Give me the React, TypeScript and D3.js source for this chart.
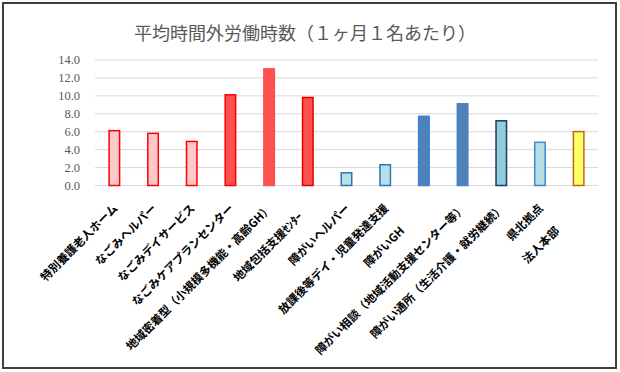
import * as d3 from "d3";

const categories = [
  "特別養護老人ホーム",
  "なごみヘルパー",
  "なごみデイサービス",
  "なごみケアプランセンター",
  "地域密着型（小規模多機能・高齢GH）",
  "地域包括支援ｾﾝﾀｰ",
  "障がいヘルパー",
  "放課後等デイ・児童発達支援",
  "障がいGH",
  "障がい相談（地域活動支援センター等）",
  "障がい通所（生活介護・就労継続）",
  "県北拠点",
  "法人本部",
];
const values = [6.2, 5.9, 5.0, 10.2, 13.1, 9.9, 1.5, 2.4, 7.8, 9.2, 7.3, 4.9, 6.1];
const yTicks = [0, 2, 4, 6, 8, 10, 12, 14];
const title = "平均時間外労働時数（１ヶ月１名あたり）";

// per-bar colours (Excel style, each point formatted by hand)
const fills = [
  "#ffc9cc", "#ffc9cc", "#ffc9cc", "#ff5050", "#ff5050", "#ff5050",
  "#b8dee8", "#b8dee8", "#4f81bd", "#4f81bd", "#92cddc", "#b8dee8", "#ffff66",
];
const strokes = [
  "#ff0000", "#ff0000", "#ff0000", "#ff0000", "#ff5050", "#e80000",
  "#2e75b6", "#2e75b6", "#3d7fd0", "#4f81bd", "#1f3864", "#3a8ad0", "#c0661a",
];
// some labels sit further down the diagonal (trailing blanks in the source)
const labelShift = [0, 0, 0, 0, 0, 12, 0, 0, 32, 0, 0, 0, 32];

const W = 620;
const H = 372;
const plotLeft = 95;
const plotRight = 598;
const plotTop = 60;
const plotBottom = 185.5;

export default function App() {
  const x = d3
    .scaleBand<string>()
    .domain(categories)
    .range([plotLeft, plotRight])
    .paddingInner(0.69)
    .paddingOuter(0.345);
  const y = d3.scaleLinear().domain([0, 14]).range([plotBottom, plotTop]);
  const bw = x.bandwidth();
  const sw = 1.5;

  return (
    <div style={{ position: "absolute", left: 0, top: 0 }}>
      <svg width={W} height={H} style={{ display: "block" }}>
        <rect x={0} y={0} width={W} height={H} fill="#fff" />
        <rect x={3} y={3} width={613} height={365} fill="#fff" stroke="#404040" strokeWidth={2} />
        <text
          x={305}
          y={40}
          textAnchor="middle"
          fontFamily="'Noto Sans CJK JP', sans-serif"
          fontSize={18}
          fill="#595959"
        >
          {title}
        </text>
        <g>
          {yTicks.map((t) => (
            <g key={t}>
              <line x1={plotLeft} x2={plotRight} y1={y(t)} y2={y(t)} stroke="#d9d9d9" strokeWidth={1} />
              <text
                x={80}
                y={y(t)}
                dy="0.35em"
                textAnchor="end"
                fontFamily="'Liberation Serif', serif"
                fontSize={12.5}
                fill="#595959"
              >
                {t.toFixed(1)}
              </text>
            </g>
          ))}
        </g>
        <g>
          {categories.map((c, i) => (
            <rect
              key={c}
              x={(x(c) ?? 0) + sw / 2}
              y={y(values[i]) + sw / 2}
              width={bw - sw}
              height={y(0) - y(values[i]) - sw / 2}
              fill={fills[i]}
              stroke={strokes[i]}
              strokeWidth={sw}
            />
          ))}
        </g>
        <g>
          {categories.map((c, i) => {
            const cx = (x(c) ?? 0) + bw / 2;
            const s = labelShift[i] * Math.SQRT1_2;
            return (
              <text
                key={c}
                transform={`translate(${cx + 4 - s},${209 + s}) rotate(-45)`}
                textAnchor="end"
                fontFamily="'Noto Sans CJK JP', sans-serif"
                fontWeight="bold"
                fontSize={11.5}
                fill="#000"
              >
                {c}
              </text>
            );
          })}
        </g>
      </svg>
    </div>
  );
}
